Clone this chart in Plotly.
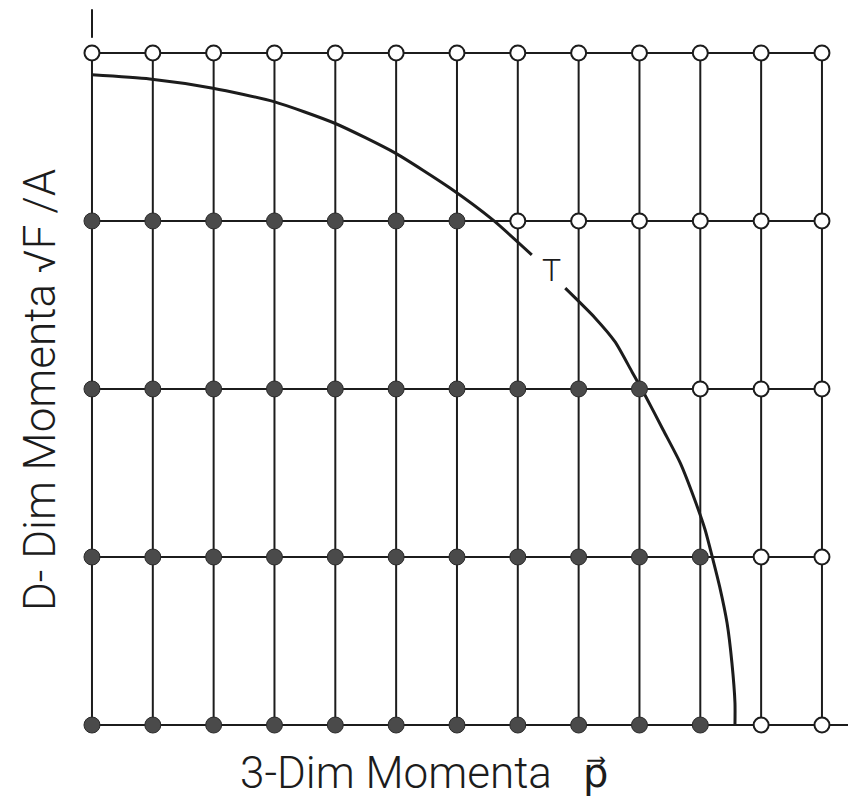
import plotly.graph_objects as go

# ---- data ----
columns = list(range(13))            # lattice sites along 3-dim momentum p
rows = [0, 1, 2, 3, 4]               # lattice sites along D-dim momentum
filled_count = [11, 11, 10, 7, 0]    # number of filled sites per row (from left)

curve_a_x = [0.0, 0.95, 1.99, 2.99, 4.00, 4.98, 5.885, 6.59, 7.23]
curve_a_y = [3.87, 3.845, 3.79, 3.71, 3.58, 3.405, 3.196, 3.006, 2.798]
curve_b_x = [7.78, 8.27, 8.60, 8.88, 9.09, 9.39, 9.67, 9.91, 10.08, 10.21, 10.32, 10.44, 10.52, 10.57, 10.57]
curve_b_y = [2.60, 2.423, 2.28, 2.10, 1.964, 1.756, 1.56, 1.339, 1.161, 0.982, 0.821, 0.607, 0.369, 0.131, 0.0]

curve_label = "T"
x_title = "3-Dim Momenta"
x_symbol = "p\u20d7"
y_title = "D- Dim Momenta \u221aF /A"

LINE = "#1c1c1c"
DOT = "#4a4a4a"
FONT = "Roboto, sans-serif"

fig = go.Figure()

# horizontal grid lines
for r in rows:
    xe = 12.43 if r == 0 else columns[-1]
    fig.add_trace(go.Scatter(x=[columns[0], xe], y=[r, r], mode="lines",
                             line=dict(color=LINE, width=2), hoverinfo="skip"))
# vertical grid lines
for c in columns:
    fig.add_trace(go.Scatter(x=[c, c], y=[rows[0], rows[-1]], mode="lines",
                             line=dict(color=LINE, width=2), hoverinfo="skip"))
# axis tip above the lattice
fig.add_trace(go.Scatter(x=[0, 0], y=[4.09, 4.26], mode="lines",
                         line=dict(color=LINE, width=2), hoverinfo="skip"))

# curve T (two pieces around the label)
for cx, cy in [(curve_a_x, curve_a_y), (curve_b_x, curve_b_y)]:
    fig.add_trace(go.Scatter(x=cx, y=cy, mode="lines",
                             line=dict(color=LINE, width=3, shape="spline", smoothing=0.6),
                             hoverinfo="skip"))

# sites
fx, fy, ox, oy = [], [], [], []
for r, n in zip(rows, filled_count):
    for c in columns:
        if c < n:
            fx.append(c); fy.append(r)
        else:
            ox.append(c); oy.append(r)

fig.add_trace(go.Scatter(x=ox, y=oy, mode="markers",
                         marker=dict(size=15, color="white", line=dict(color=LINE, width=2))))
fig.add_trace(go.Scatter(x=fx, y=fy, mode="markers",
                         marker=dict(size=16, color=DOT, line=dict(color="#2a2a2a", width=1))))

fig.add_annotation(x=7.56, y=2.71, text=curve_label, showarrow=False,
                   font=dict(family=FONT, size=32, color=LINE, weight=300))
fig.add_annotation(x=396 / 848, xref="paper", y=(805 - 773) / 805, yref="paper",
                   text=x_title, showarrow=False, xanchor="center", yanchor="middle",
                   font=dict(family=FONT, size=44, color=LINE, weight=300))
fig.add_annotation(x=595 / 848, xref="paper", y=(805 - 773) / 805, yref="paper",
                   text=x_symbol, showarrow=False, xanchor="center", yanchor="middle",
                   font=dict(family="DejaVu Sans, sans-serif", size=40, color=LINE))
fig.add_annotation(x=40 / 848, xref="paper", y=(805 - 390) / 805, yref="paper",
                   text=y_title, showarrow=False, textangle=-90,
                   xanchor="center", yanchor="middle",
                   font=dict(family=FONT, size=44, color=LINE, weight=300))

fig.update_layout(
    width=848, height=805, margin=dict(l=0, r=0, t=0, b=0),
    paper_bgcolor="white", plot_bgcolor="white", showlegend=False,
    xaxis=dict(range=[-1.512, 12.428], visible=False, fixedrange=True),
    yaxis=dict(range=[-0.476, 4.315], visible=False, fixedrange=True),
)

fig.write_html("out.html")
